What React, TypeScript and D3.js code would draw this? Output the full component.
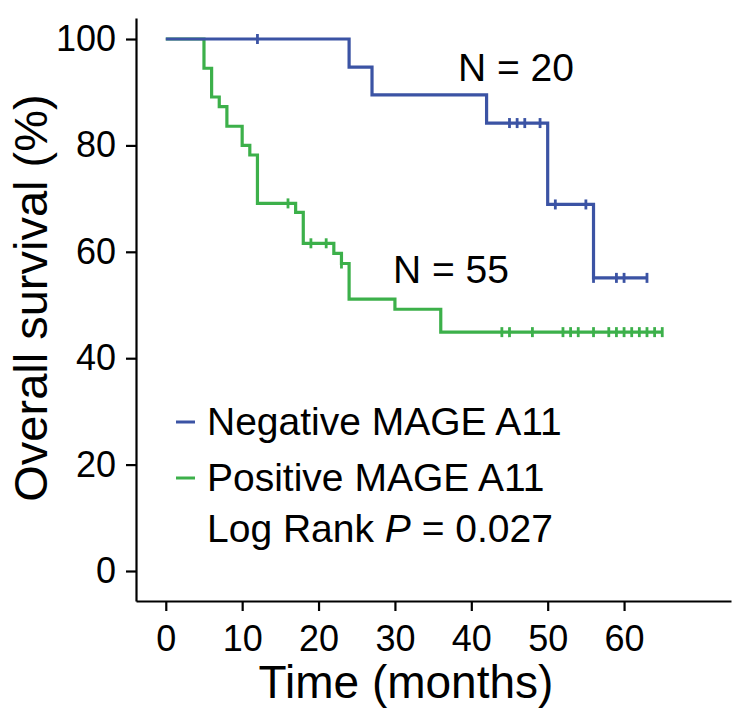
import React, { useEffect, useRef } from "react";
import * as d3 from "d3";

// Negative MAGE A11 (N = 20)
const negTimes = [0, 24, 27, 42, 50, 56];
const negSurv = [100, 94.7, 89.5, 84.2, 68.9, 55.1];
const negEnd = 63;
const negCensor = [12, 45, 46, 47, 49, 51, 55, 56, 59, 60, 63];

// Positive MAGE A11 (N = 55)
const posTimes = [0, 5, 6, 7, 8, 10, 11, 12, 17, 18, 22, 23, 24, 30, 36];
const posSurv = [100, 94.5, 89.1, 87.3, 83.6, 80.0, 78.2, 69.1, 67.4, 61.6, 59.7, 57.8, 51.1, 49.2, 44.9];
const posEnd = 65;
const posCensor = [16, 19, 21, 23, 44, 45, 48, 52, 53, 54, 56, 58, 59, 60, 61, 62, 63, 64, 65];

const xTicks = [0, 10, 20, 30, 40, 50, 60];
const yTicks = [0, 20, 40, 60, 80, 100];

const BLUE = "#3B53A4";
const GREEN = "#3CB04A";
const FONT = "'Liberation Sans', Arial, Helvetica, sans-serif";

const W = 735;
const H = 716;

const x = d3.scaleLinear().domain([-3.9, 74]).range([136, 731]);
const y = d3.scaleLinear().domain([-5.64, 103.95]).range([601, 18]);

function stepPoints(times: number[], surv: number[], end: number): [number, number][] {
  const pts: [number, number][] = times.map((t, i) => [t, surv[i]]);
  pts.push([end, surv[surv.length - 1]]);
  return pts;
}

function survAt(times: number[], surv: number[], t: number): number {
  let s = surv[0];
  for (let i = 0; i < times.length; i++) if (times[i] <= t) s = surv[i];
  return s;
}

const line = d3
  .line<[number, number]>()
  .x((d) => x(d[0]))
  .y((d) => y(d[1]))
  .curve(d3.curveStepAfter);

export default function App() {
  const xAxisRef = useRef<SVGGElement>(null);
  const yAxisRef = useRef<SVGGElement>(null);

  useEffect(() => {
    if (xAxisRef.current) {
      const g = d3.select(xAxisRef.current);
      g.call(
        d3.axisBottom(x).tickValues(xTicks).tickSize(10).tickSizeOuter(0).tickPadding(14).tickFormat(d3.format("d"))
      );
      g.selectAll("path, line").attr("stroke", "#000").attr("stroke-width", 2.2);
      g.selectAll("text").attr("font-size", 36).attr("font-family", FONT).attr("fill", "#000");
    }
    if (yAxisRef.current) {
      const g = d3.select(yAxisRef.current);
      g.call(
        d3.axisLeft(y).tickValues(yTicks).tickSize(10).tickSizeOuter(0).tickPadding(10).tickFormat(d3.format("d"))
      );
      g.selectAll("path, line").attr("stroke", "#000").attr("stroke-width", 2.2);
      g.selectAll("text").attr("font-size", 36).attr("font-family", FONT).attr("fill", "#000");
    }
  }, []);

  const series = [
    { times: negTimes, surv: negSurv, end: negEnd, censor: negCensor, color: BLUE },
    { times: posTimes, surv: posSurv, end: posEnd, censor: posCensor, color: GREEN },
  ];

  return (
    <svg
      width={W}
      height={H}
      style={{ position: "absolute", left: 0, top: 0, background: "#fff" }}
      fontFamily={FONT}
    >
      <g ref={xAxisRef} transform={`translate(0,${y.range()[0]})`} />
      <g ref={yAxisRef} transform={`translate(${x.range()[0]},0)`} />

      {series
        .slice()
        .reverse()
        .map((s, si) => (
          <g key={si}>
            <path
              d={line(stepPoints(s.times, s.surv, s.end)) || ""}
              fill="none"
              stroke={s.color}
              strokeWidth={3.2}
              strokeLinejoin="miter"
            />
            {s.censor.map((c, ci) => {
              const v = survAt(s.times, s.surv, c);
              return (
                <line
                  key={ci}
                  x1={x(c)}
                  x2={x(c)}
                  y1={y(v) - 5}
                  y2={y(v) + 5}
                  stroke={s.color}
                  strokeWidth={2.8}
                />
              );
            })}
          </g>
        ))}

      <text x={458} y={81} fontSize={39} fill="#000">N = 20</text>
      <text x={393} y={283} fontSize={39} fill="#000">N = 55</text>

      {/* legend */}
      <line x1={176} x2={195} y1={422} y2={422} stroke={BLUE} strokeWidth={3} />
      <text x={207} y={435} fontSize={39} fill="#000">Negative MAGE A11</text>
      <line x1={176} x2={195} y1={478} y2={478} stroke={GREEN} strokeWidth={3} />
      <text x={207} y={491} fontSize={39} fill="#000">Positive MAGE A11</text>
      <text x={207} y={542} fontSize={39} fill="#000">
        Log Rank <tspan fontStyle="italic">P</tspan> = 0.027
      </text>

      <text
        transform={`translate(47,298) rotate(-90)`}
        textAnchor="middle"
        fontSize={47}
        fill="#000"
      >
        Overall survival (%)
      </text>
      <text x={406} y={698} textAnchor="middle" fontSize={46} fill="#000">
        Time (months)
      </text>
    </svg>
  );
}
